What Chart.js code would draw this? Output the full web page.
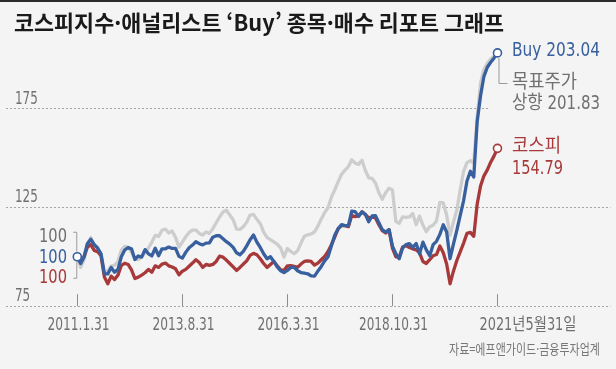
<!DOCTYPE html>
<html lang="ko">
<head>
<meta charset="utf-8">
<script src="https://cdn.jsdelivr.net/npm/chart.js@4.4.1/dist/chart.umd.min.js"></script>
<style>
  html, body { margin: 0; padding: 0; background: #f4f4f4; }
  canvas { display: block; }
</style>
</head>
<body>
<canvas id="chart" width="616" height="369"></canvas>
<script>
// monthly index, 0 = 2011.1.31 ... 124 = 2021.5.31 (all start at 100)
const buyValues = [
  100, 96.6, 100, 106.7, 108.8, 106.1, 104.4, 101.5, 91.4, 91.3,
  94.6, 92.2, 93.6, 100, 103.4, 104.6, 104, 98.6, 100.4, 99.8,
  103.6, 101.5, 100.4, 104.3, 100.5, 104, 104, 104.9, 104.2, 104.2,
  100.2, 99.3, 102.2, 104.5, 105.9, 107.6, 106.6, 106, 106.9, 107,
  109.9, 110.6, 110.6, 109.1, 107.6, 106.4, 104.7, 102, 101, 102.7,
  105.5, 108.6, 111, 107.4, 104.7, 101.5, 99, 100, 97.6, 94.9,
  92.9, 92, 93.1, 94.6, 94.6, 92.9, 92, 91.7, 91.4, 90.3,
  90.2, 92.7, 95.1, 97.9, 100, 105.6, 111, 114.2, 116.2, 115.7,
  115.7, 123, 122.8, 120.4, 122.6, 121.4, 117.7, 120.6, 120.8, 117.2,
  113.7, 112.5, 113.7, 105.4, 101.5, 99, 104.4, 106.1, 106.6, 104.7,
  106.7, 101.5, 107.4, 103.5, 100.5, 106.1, 107.8, 111.3, 116.2, 112.5,
  99, 106.4, 113.3, 120.9, 128.4, 138.3, 143.2, 140.3, 168.2, 181.4,
  191.2, 195.8, 198.3, 200.5, 203.04
];
const targetValues = [
  100, 94.6, 98.5, 106.4, 109.8, 106.1, 104.4, 101.5, 92.2, 92.7,
  95.4, 95.6, 97.6, 103.4, 105.2, 104.9, 102.2, 98.8, 98.5, 100,
  102, 104.4, 107.4, 110.8, 110.3, 113.4, 114, 112, 113, 109.8,
  104.9, 107.4, 110.1, 112.3, 113.5, 113.5, 111.8, 111, 112.5, 111.8,
  114.2, 117.2, 120.1, 122.6, 123.5, 121.1, 118.7, 114, 113.8, 115.2,
  117.5, 121.1, 121.4, 118.9, 116.7, 112.5, 109.8, 108.6, 107.5, 106.4,
  104.5, 99.8, 104.2, 102.7, 101.5, 103, 106.9, 110.3, 111.1, 111.5,
  112.5, 115.5, 119.1, 122.3, 124.8, 130.2, 133.8, 138, 141.7, 143.8,
  145.6, 149, 147.3, 146.7, 148.8, 143.6, 139.9, 139.6, 137.3, 132.4,
  129.1, 132.4, 134.6, 133.8, 117.9, 116.9, 120.1, 119.9, 120.1, 121.8,
  116.2, 120.6, 115.9, 112.7, 115.2, 115.9, 118.1, 127.5, 127.2, 121.1,
  110.8, 117.6, 123.5, 133.8, 143.2, 147.6, 148.6, 147.1, 170.6, 187.8,
  194.8, 197.8, 200, 201.5, 201.83
];
const kospiValues = [
  100, 97.1, 100, 104.9, 106.1, 103.2, 102.5, 100.5, 89.7, 86.3,
  90.2, 88.5, 90.7, 95.6, 96.7, 96.1, 93.4, 89, 89.7, 90.7,
  91.9, 93.6, 92.2, 95.4, 94.6, 96.3, 96.8, 95.4, 94.8, 93.9,
  90.9, 92.7, 93.6, 95.2, 96.8, 98.5, 97.1, 94.6, 96.1, 95.6,
  96.1, 97.6, 100.3, 99.8, 98.3, 96.6, 94.9, 93.1, 94.6, 96.3,
  97.9, 100.7, 101.7, 101, 99, 96.6, 94.6, 96.1, 97.6, 95.4,
  93.4, 93.1, 95.4, 95.5, 95.1, 94.6, 96.3, 97.6, 97.9, 97.6,
  95.8, 96.8, 98.5, 100.2, 102.7, 106.1, 110.1, 114.2, 115.8, 115.7,
  115.2, 120.8, 120.3, 120.6, 122.8, 121.4, 119.6, 120.1, 119.6, 116.2,
  113.2, 112, 113.7, 104.4, 100, 99.8, 104.9, 105.6, 104.7, 104,
  103.5, 102, 97.6, 96.6, 98.5, 100.5, 101.1, 105.4, 102, 96.3,
  86.3, 92.7, 98.1, 102.5, 106.9, 111.8, 112.3, 110.3, 126.5, 135.8,
  140.9, 143.9, 147.8, 151, 154.79
];

const tickIndexes = [0, 31, 62, 93, 124];
const tickLabels = ["2011.1.31", "2013.8.31", "2016.3.31", "2018.10.31", "2021년5월31일"];
const yTicks = [75, 125, 175];

const titleText = "코스피지수·애널리스트 ‘Buy’ 종목·매수 리포트 그래프";
const sourceText = "자료=에프앤가이드·금융투자업계";

const BLUE = "#38609f";
const RED = "#a7393b";
const GRAYLINE = "#cdcdcd";
const TEXTGRAY = "#707070";
const BG = "#f4f4f4";
const NARROW = '"Liberation Sans Narrow", "DejaVu Sans Condensed", "Noto Sans CJK KR", sans-serif';
const KR = '"Noto Sans CJK KR", sans-serif';

const last = buyValues.length - 1;
const toPoints = arr => arr.map((v, i) => ({ x: i, y: v }));

// text, ticks and callouts
const decor = {
  id: "decor",
  beforeDraw(chart) {
    const ctx = chart.ctx;
    ctx.save();
    ctx.fillStyle = BG;
    ctx.fillRect(0, 0, chart.width, chart.height);
    ctx.fillStyle = "#2b2b2b";
    ctx.fillRect(0, 0, chart.width, 2);
    ctx.restore();
  },
  beforeDatasetsDraw(chart) {
    // the top gridline stops before the labels on the right
    const ctx = chart.ctx;
    const y = chart.scales.y.getPixelForValue(175);
    ctx.save();
    ctx.fillStyle = BG;
    ctx.fillRect(489, y - 3, chart.width - 489, 6);
    ctx.restore();
  },
  afterDraw(chart) {
    const ctx = chart.ctx;
    const xs = chart.scales.x;
    const ys = chart.scales.y;
    ctx.save();
    ctx.textBaseline = "middle";

    // title
    ctx.fillStyle = "#1a1a1a";
    ctx.font = "bold 22px " + KR;
    ctx.textAlign = "left";
    ctx.fillText(titleText, 14, 23, 490);

    // y labels above the gridlines
    ctx.fillStyle = TEXTGRAY;
    ctx.font = "18px " + NARROW;
    yTicks.forEach(v => {
      const s = String(v);
      ctx.fillText(s, 15, ys.getPixelForValue(v) - 9.5, s.length * 7.6);
    });

    // x tick marks and labels
    const base = ys.getPixelForValue(75);
    ctx.strokeStyle = "#8c8c8c";
    ctx.lineWidth = 1;
    ctx.font = "17px " + NARROW;
    tickIndexes.forEach((idx, k) => {
      const x = Math.round(xs.getPixelForValue(idx)) + 0.5;
      ctx.beginPath();
      ctx.moveTo(x, base - 12);
      ctx.lineTo(x, base);
      ctx.stroke();
      if (k === tickIndexes.length - 1) {
        ctx.textAlign = "left";
        ctx.fillText(tickLabels[k], x - 18, 326, 97);
      } else {
        ctx.textAlign = "center";
        ctx.fillText(tickLabels[k], x + 1, 326, tickLabels[k].length * 6.9);
      }
    });

    // start labels (all 100) with bracket
    const x0 = xs.getPixelForValue(0);
    const y0 = ys.getPixelForValue(buyValues[0]);
    ctx.font = "20px " + NARROW;
    ctx.textAlign = "right";
    ctx.fillStyle = TEXTGRAY;
    ctx.fillText(String(targetValues[0]), 67, y0 - 20, 28);
    ctx.fillStyle = BLUE;
    ctx.fillText(String(buyValues[0]), 67, y0 + 1, 28);
    ctx.fillStyle = RED;
    ctx.fillText(String(kospiValues[0]), 67, y0 + 21, 28);
    ctx.strokeStyle = "#9a9a9a";
    ctx.beginPath();
    ctx.moveTo(x0 - 4, y0 - 24.5);
    ctx.lineTo(x0 - 0.5, y0 - 24.5);
    ctx.lineTo(x0 - 0.5, y0 - 5);
    ctx.moveTo(x0 - 0.5, y0 + 5);
    ctx.lineTo(x0 - 0.5, y0 + 21.5);
    ctx.lineTo(x0 - 4, y0 + 21.5);
    ctx.stroke();

    // end labels
    const xe = xs.getPixelForValue(last);
    const yb = ys.getPixelForValue(buyValues[last]);
    const yk = ys.getPixelForValue(kospiValues[last]);
    ctx.textAlign = "left";
    ctx.fillStyle = BLUE;
    ctx.font = "20px " + NARROW;
    ctx.fillText("Buy " + buyValues[last].toFixed(2), 512, yb - 2, 88);

    ctx.strokeStyle = "#9a9a9a";
    ctx.beginPath();
    ctx.moveTo(xe + 1.5, yb + 5);
    ctx.lineTo(xe + 1.5, 83.5);
    ctx.lineTo(xe + 10, 83.5);
    ctx.stroke();
    ctx.fillStyle = "#707070";
    ctx.font = "19px " + NARROW;
    ctx.fillText("목표주가", 512, 83.5, 65);
    ctx.fillText("상향 " + targetValues[last].toFixed(2), 512, 104, 88);

    ctx.fillStyle = RED;
    ctx.font = "19px " + NARROW;
    ctx.fillText("코스피", 512, yk - 1, 49);
    ctx.font = "20px " + NARROW;
    ctx.fillText(kospiValues[last].toFixed(2), 512, yk + 20, 51);

    // source
    ctx.textAlign = "right";
    ctx.fillStyle = "#777";
    ctx.font = "14px " + KR;
    ctx.fillText(sourceText, 600, 349, 151);
    ctx.restore();
  }
};

const endOnly = (ctx, withStart) =>
  (ctx.dataIndex === last || (withStart && ctx.dataIndex === 0)) ? 4 : 0;

new Chart(document.getElementById("chart"), {
  type: "line",
  data: {
    datasets: [
      {
        label: "Buy",
        data: toPoints(buyValues),
        borderColor: BLUE,
        borderWidth: 3.3,
        pointRadius: ctx => endOnly(ctx, true),
        pointBackgroundColor: "#fff",
        pointBorderColor: BLUE,
        pointBorderWidth: 1.6
      },
      {
        label: "코스피",
        data: toPoints(kospiValues),
        borderColor: RED,
        borderWidth: 3.3,
        pointRadius: ctx => endOnly(ctx, false),
        pointBackgroundColor: "#fff",
        pointBorderColor: RED,
        pointBorderWidth: 1.6
      },
      {
        label: "목표주가 상향",
        data: toPoints(targetValues),
        borderColor: GRAYLINE,
        borderWidth: 3.3,
        pointRadius: 0
      }
    ]
  },
  options: {
    responsive: false,
    animation: false,
    devicePixelRatio: 1,
    layout: { padding: 0 },
    elements: { line: { tension: 0, borderJoinStyle: "round", borderCapStyle: "round" } },
    plugins: { legend: { display: false }, tooltip: { enabled: false } },
    scales: {
      x: { type: "linear", display: false, bounds: "data", min: -21.15, max: 157.32 },
      y: {
        bounds: "data",
        min: 46.08,
        max: 226.96,
        afterBuildTicks: scale => { scale.ticks = yTicks.map(v => ({ value: v })); },
        ticks: { display: false },
        border: { display: false, dash: [2, 2] },
        grid: { color: "#a5a5a5", lineWidth: 1, drawTicks: false }
      }
    }
  },
  plugins: [decor]
});
</script>
</body>
</html>
